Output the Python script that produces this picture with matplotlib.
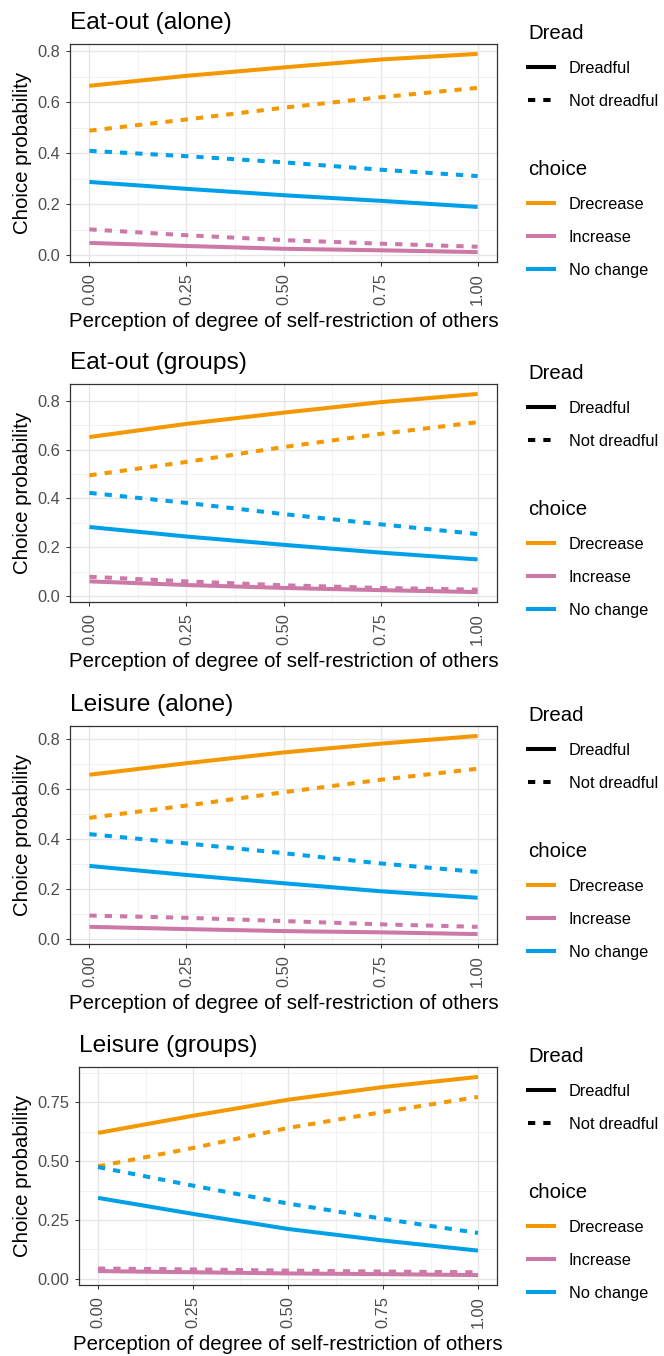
import matplotlib.pyplot as plt
from matplotlib.lines import Line2D
from matplotlib.ticker import MultipleLocator, FormatStrFormatter

plt.rcParams['font.family'] = ['Liberation Sans', 'DejaVu Sans']

W, H = 664, 1356

x = [0.0, 0.25, 0.5, 0.75, 1.0]

titles = ['Eat-out (alone)', 'Eat-out (groups)', 'Leisure (alone)', 'Leisure (groups)']
choices = ['Drecrease', 'Increase', 'No change']
dread_levels = ['Dreadful', 'Not dreadful']
colors = {'Drecrease': '#F39800', 'Increase': '#CC79A7', 'No change': '#00A0E9'}

# Eat-out (alone)
ea_dec_d = [0.665, 0.704, 0.737, 0.768, 0.790]
ea_dec_n = [0.489, 0.533, 0.579, 0.620, 0.657]
ea_inc_d = [0.049, 0.037, 0.026, 0.020, 0.013]
ea_inc_n = [0.102, 0.079, 0.060, 0.046, 0.034]
ea_noc_d = [0.288, 0.261, 0.236, 0.214, 0.190]
ea_noc_n = [0.410, 0.389, 0.365, 0.336, 0.311]

# Eat-out (groups)
eg_dec_d = [0.652, 0.706, 0.752, 0.795, 0.829]
eg_dec_n = [0.495, 0.550, 0.611, 0.665, 0.713]
eg_inc_d = [0.060, 0.045, 0.033, 0.024, 0.016]
eg_inc_n = [0.079, 0.060, 0.044, 0.033, 0.026]
eg_noc_d = [0.283, 0.244, 0.210, 0.178, 0.150]
eg_noc_n = [0.423, 0.382, 0.336, 0.294, 0.254]

# Leisure (alone)
la_dec_d = [0.657, 0.703, 0.746, 0.781, 0.812]
la_dec_n = [0.485, 0.534, 0.587, 0.637, 0.681]
la_inc_d = [0.050, 0.041, 0.033, 0.028, 0.021]
la_inc_n = [0.095, 0.086, 0.073, 0.060, 0.050]
la_noc_d = [0.293, 0.257, 0.224, 0.192, 0.166]
la_noc_n = [0.420, 0.383, 0.344, 0.303, 0.269]

# Leisure (groups)
lg_dec_d = [0.620, 0.693, 0.761, 0.815, 0.858]
lg_dec_n = [0.478, 0.556, 0.641, 0.709, 0.773]
lg_inc_d = [0.033, 0.028, 0.023, 0.020, 0.016]
lg_inc_n = [0.044, 0.040, 0.035, 0.031, 0.028]
lg_noc_d = [0.344, 0.276, 0.212, 0.163, 0.120]
lg_noc_n = [0.475, 0.396, 0.320, 0.255, 0.195]

panels = [
    {'Drecrease': (ea_dec_d, ea_dec_n), 'Increase': (ea_inc_d, ea_inc_n), 'No change': (ea_noc_d, ea_noc_n)},
    {'Drecrease': (eg_dec_d, eg_dec_n), 'Increase': (eg_inc_d, eg_inc_n), 'No change': (eg_noc_d, eg_noc_n)},
    {'Drecrease': (la_dec_d, la_dec_n), 'Increase': (la_inc_d, la_inc_n), 'No change': (la_noc_d, la_noc_n)},
    {'Drecrease': (lg_dec_d, lg_dec_n), 'Increase': (lg_inc_d, lg_inc_n), 'No change': (lg_noc_d, lg_noc_n)},
]

# axes boxes in pixels: left, top, bottom
boxes = [(70, 44, 262), (70, 384, 602), (70, 726, 944), (79, 1067, 1285)]
right = 497

LW = 2.9
DASH = (1.8, 2.0)
base = 14.7

fig = plt.figure(figsize=(W / 100, H / 100), dpi=100)

for i, (title, data) in enumerate(zip(titles, panels)):
    left, top, bottom = boxes[i]
    ax = fig.add_axes([left / W, 1 - bottom / H, (right - left) / W, (bottom - top) / H])

    allv = []
    for ch in choices:
        yd, yn = data[ch]
        ax.plot(x, yd, color=colors[ch], lw=LW, solid_capstyle='butt')
        ax.plot(x, yn, color=colors[ch], lw=LW, ls=(0, DASH), dash_capstyle='butt')
        allv += yd + yn
    lo, hi = min(allv), max(allv)
    pad = 0.05 * (hi - lo)
    ax.set_ylim(lo - pad, hi + pad)
    ax.set_xlim(-0.05, 1.05)

    ax.xaxis.set_major_locator(MultipleLocator(0.25))
    ax.xaxis.set_minor_locator(MultipleLocator(0.125))
    ax.xaxis.set_major_formatter(FormatStrFormatter('%.2f'))
    if i == 3:
        ax.yaxis.set_major_locator(MultipleLocator(0.25))
        ax.yaxis.set_minor_locator(MultipleLocator(0.125))
        ax.yaxis.set_major_formatter(FormatStrFormatter('%.2f'))
    else:
        ax.yaxis.set_major_locator(MultipleLocator(0.2))
        ax.yaxis.set_minor_locator(MultipleLocator(0.1))
        ax.yaxis.set_major_formatter(FormatStrFormatter('%.1f'))

    ax.grid(which='major', color='#E6E6E6', lw=1.0)
    ax.grid(which='minor', color='#EDEDED', lw=0.5)
    ax.set_axisbelow(True)
    for s in ax.spines.values():
        s.set_color('#333333')
        s.set_linewidth(0.9)
    ax.tick_params(which='major', length=2.6, width=0.75, color='#333333',
                   labelsize=base * 0.8, labelcolor='#4D4D4D', pad=4.5)
    ax.tick_params(which='minor', length=0)
    ax.tick_params(axis='x', labelrotation=90, pad=5.5)

    ax.set_title(title, loc='left', fontsize=base * 1.2, pad=10.5)
    ax.set_xlabel('Perception of degree of self-restriction of others', fontsize=base, labelpad=5)
    ax.set_ylabel('Choice probability', fontsize=base, labelpad=4)

    # legends
    dh = [Line2D([], [], color='black', lw=LW),
          Line2D([], [], color='black', lw=LW, ls=(0, DASH))]
    ch_h = [Line2D([], [], color=colors[c], lw=LW) for c in choices]
    common = dict(loc='upper left', frameon=False, bbox_transform=fig.transFigure,
                  fontsize=base * 0.8, title_fontsize=base, borderpad=0, borderaxespad=0,
                  handlelength=1.6, handletextpad=0.9, labelspacing=1.1, alignment='left')
    leg1 = ax.legend(dh, dread_levels, title='Dread',
                     bbox_to_anchor=(528 / W, 1 - (top - 20) / H), **common)
    ax.add_artist(leg1)
    ax.legend(ch_h, choices, title='choice',
              bbox_to_anchor=(528 / W, 1 - (top + 116) / H), **common)

fig.savefig('out.png', dpi=100)
